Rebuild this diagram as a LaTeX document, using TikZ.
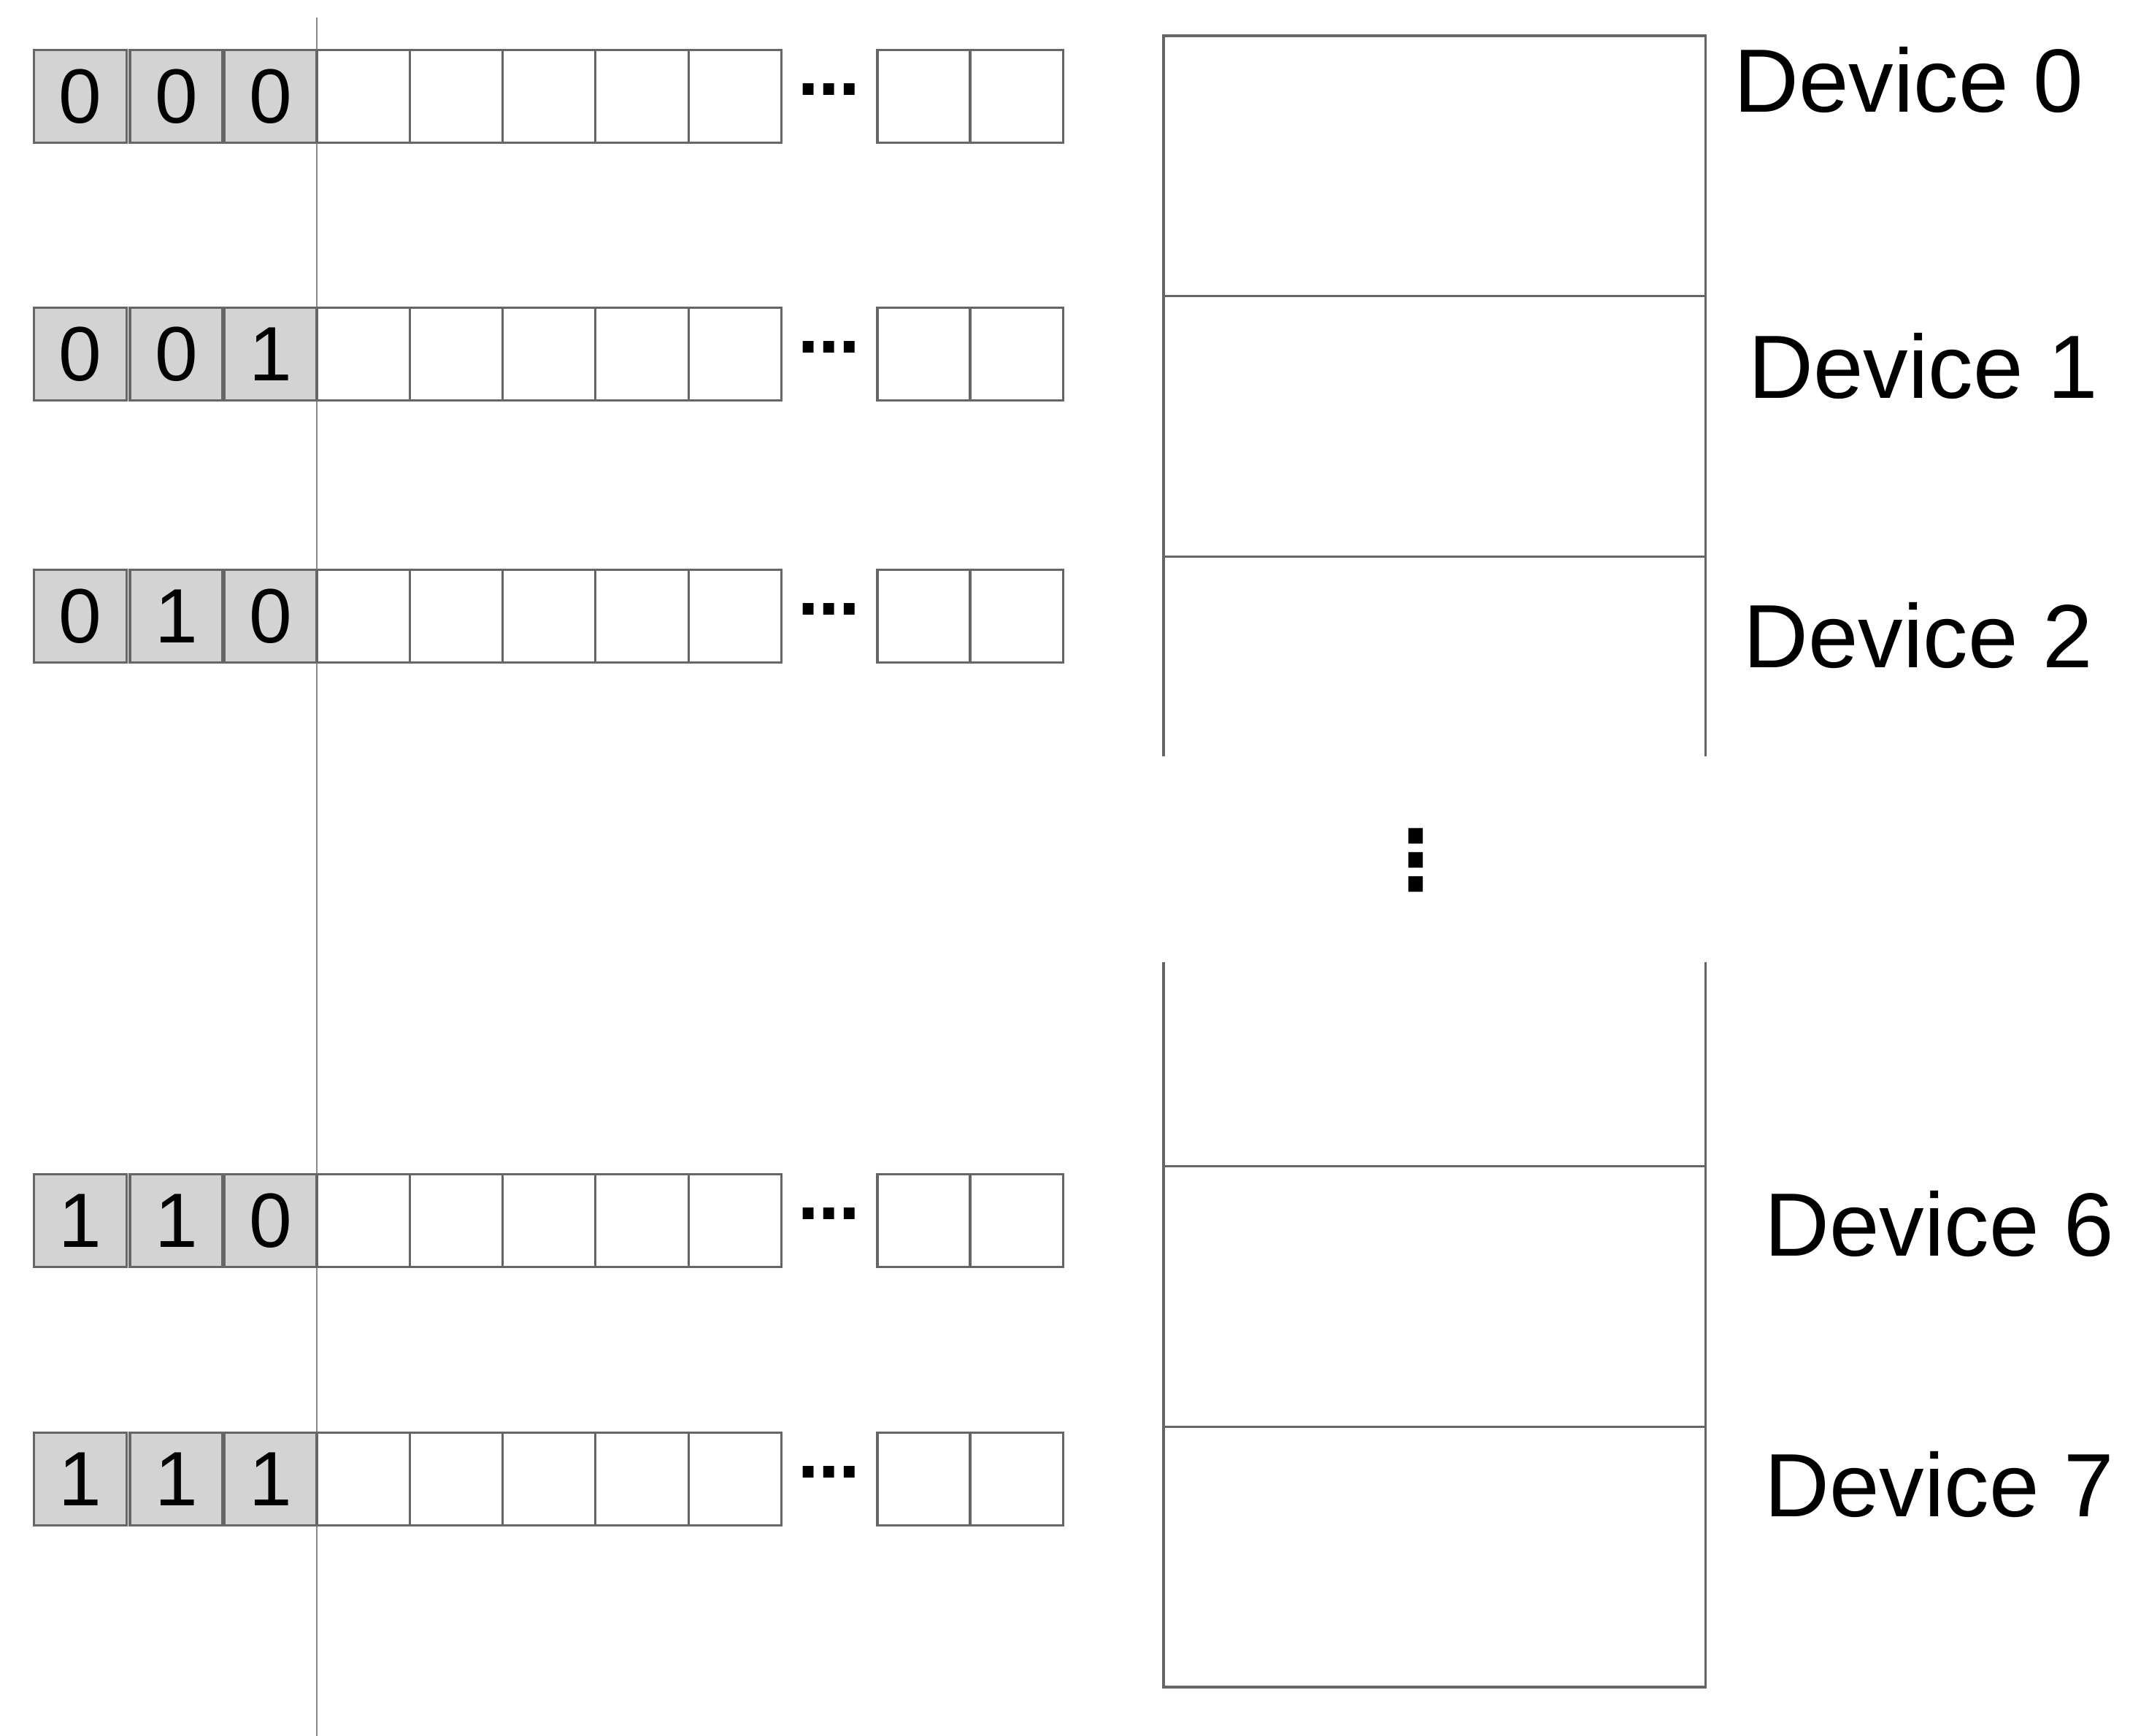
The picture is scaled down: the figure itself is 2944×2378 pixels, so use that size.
\documentclass[tikz,border=0pt]{standalone}
\usepackage{fontspec}
\setmainfont{Liberation Sans}
\newfontfamily\dotfont{DejaVu Sans}
\usepackage{xcolor}
\usepackage{tikz}
\usetikzlibrary{positioning}

\definecolor{cellline}{HTML}{666666}
\definecolor{cellgray}{HTML}{D3D3D3}
\definecolor{splitgray}{HTML}{8A8A8A}

\begin{document}
\begin{tikzpicture}[
        x=0.01cm, y=-0.01cm,
        cell/.style={
            draw=cellline,
            line width=0.9pt,
            minimum width=1.272cm,
            minimum height=1.275cm,
            inner sep=0pt,
            outer sep=0pt,
            font=\fontsize{30}{30}\selectfont
        },
        bitcell/.style={cell, fill=cellgray, minimum width=1.27cm},
        hdots/.style={font=\dotfont\bfseries\fontsize{24}{24}\selectfont, inner sep=0pt},
        slot/.style={
            draw=cellline,
            line width=0.9pt,
            minimum width=7.42cm,
            minimum height=3.565cm,
            inner sep=0pt,
            outer sep=0pt
        },
        devlabel/.style={font=\fontsize{35}{35}\selectfont, anchor=base}
    ]
        \useasboundingbox (0,0) rectangle (2944,2378);

        % split between prefix bits and the rest
        \draw[splitgray, line width=0.4pt] (434,24) -- (434,2378);

        % one row of cells per device prefix
        \foreach \name/\yc/\ba/\bb/\bc in {r0/132/0/0/0, r1/485/0/0/1, r2/844/0/1/0, r6/1672/1/1/0, r7/2026/1/1/1} {
            \node[bitcell] (\name-1) at (110,\yc) {\ba};
            \node[bitcell] (\name-2) at (241.5,\yc) {\bb};
            \node[bitcell] (\name-3) at (370.5,\yc) {\bc};
            \node[cell, right=0pt of \name-3] (\name-4) {};
            \node[cell, right=0pt of \name-4] (\name-5) {};
            \node[cell, right=0pt of \name-5] (\name-6) {};
            \node[cell, right=0pt of \name-6] (\name-7) {};
            \node[cell, right=0pt of \name-7] (\name-8) {};
            \node[hdots] (\name-dots) at (1136,\yc-9) {…};
            \node[cell, minimum width=1.27cm] (\name-9) at (1265.5,\yc) {};
            \node[cell, minimum width=1.27cm, right=0pt of \name-9] (\name-10) {};
        }

        % device memory slots
        \node[slot, anchor=north west] (dev0) at (1594,49) {};
        \node[slot, below=0pt of dev0] (dev1) {};
        \draw[cellline, line width=0.9pt] (dev1.south west) -- ++(0,274);
        \draw[cellline, line width=0.9pt] (dev1.south east) -- ++(0,274);

        \node[font=\dotfont\bfseries\fontsize{32}{32}\selectfont, inner sep=0pt] (vdots) at (1940,1178) {⋮};

        \node[slot, anchor=south west] (dev7) at (1594,2311) {};
        \node[slot, above=0pt of dev7] (dev6) {};
        \draw[cellline, line width=0.9pt] (dev6.north west) -- ++(0,-280);
        \draw[cellline, line width=0.9pt] (dev6.north east) -- ++(0,-280);

        \node[devlabel] (lab0) at (2615,153) {Device 0};
        \node[devlabel] (lab1) at (2635,545) {Device 1};
        \node[devlabel] (lab2) at (2628,914) {Device 2};
        \node[devlabel] (lab6) at (2657,1720) {Device 6};
        \node[devlabel] (lab7) at (2657,2077) {Device 7};
    \end{tikzpicture}
\end{document}
